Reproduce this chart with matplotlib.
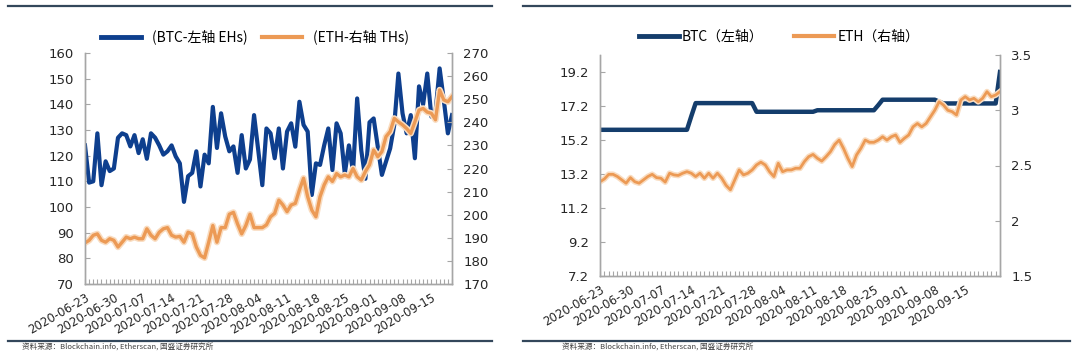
import numpy as np
import pandas as pd
import matplotlib
matplotlib.use("Agg")
import matplotlib.pyplot as plt
import matplotlib.patheffects as pe
from matplotlib.lines import Line2D

plt.rcParams['font.family'] = ['DejaVu Sans', 'Noto Sans CJK SC']

# ---------------- data ----------------
start_date = "2020-06-23"
tick_labels = ["2020-06-23", "2020-06-30", "2020-07-07", "2020-07-14", "2020-07-21",
               "2020-07-28", "2020-08-04", "2020-08-11", "2020-08-18", "2020-08-25",
               "2020-09-01", "2020-09-08", "2020-09-15"]

# Left chart: hashrate
btc_hash = [124, 109.5, 110, 128.7, 108.5, 117.8, 114, 115, 127, 128.7,
            128, 123.6, 128, 121, 126.4, 118.8, 128.7, 127, 124, 120.4,
            121.7, 124, 119.7, 117, 102, 112, 113.3, 121.7, 108, 120.4,
            117, 139, 123, 136.5, 127.5, 121.7, 123.6, 113.3, 128, 115,
            118.5, 135.8, 122.3, 108.5,
            130.6, 128.7, 119, 130.6, 115, 129.4, 132.6, 123.5, 141, 132,
            129.4, 104.7, 117, 116.4, 124, 130.6, 114.4, 132.6, 128.7, 113,
            124, 113.8, 142.3, 122, 111, 133, 134.5, 123.5, 112.5, 117.7,
            122.8, 132, 152, 136.5, 128.7, 135.8, 119, 147, 140, 152,
            135.2, 137, 154, 141.7, 128.7, 135.8]
eth_hash = [187.8, 188.9, 191.1, 191.7, 188.9, 188.1, 189.6, 188.9, 186.0, 188.1,
            190.3, 189.6, 190.3, 189.6, 189.6, 193.9, 191.1, 189.6, 192.4, 193.9,
            194.4, 191.1, 190.3, 190.6, 188.1, 192.4, 191.7, 186.0, 182.4, 181.3,
            188.1, 195.3, 188.1, 194.4, 194.4, 200.2, 201.0, 196.0, 191.7, 195.3,
            200.2, 194.4, 194.4, 194.4,
            195.6, 199.1, 200.6, 206.3, 204.2, 201.3, 204.2, 204.9, 210.7, 215.8,
            207.8, 202.0, 199.1, 207.8, 212.9, 216.4, 214.4, 217.8, 216.4, 217.2,
            216.4, 220.0, 216.4, 215.0, 218.7, 221.6, 228.0, 225.1, 227.3, 233.8,
            236.0, 241.7, 240.2, 238.9, 237.3, 235.2, 240.2, 245.3, 246.0, 244.4,
            243.9, 241.1, 254.0, 249.7, 248.9, 251.1]

# Right chart: difficulty
btc_diff = [15.8, 15.8, 15.8, 15.8, 15.8, 15.8, 15.8, 15.8, 15.8, 15.8,
            15.8, 15.8, 15.8, 15.8, 15.8, 15.8, 15.8, 15.8, 15.8, 15.8,
            15.8, 16.6, 17.37, 17.37, 17.37, 17.37, 17.37, 17.37, 17.37, 17.37,
            17.37, 17.37, 17.37, 17.37, 17.37, 17.37, 16.86, 16.86, 16.86, 16.86,
            16.86, 16.86, 16.86, 16.86, 16.86, 16.86, 16.86, 16.86, 16.86, 16.86,
            16.95, 16.95, 16.95, 16.95, 16.95, 16.95, 16.95, 16.95, 16.95, 16.95,
            16.95, 16.95, 16.95, 16.95, 17.25, 17.57, 17.57, 17.57, 17.57, 17.57,
            17.57, 17.57, 17.57, 17.57, 17.57, 17.57, 17.57, 17.57, 17.45, 17.35,
            17.35, 17.35, 17.35, 17.35, 17.35, 17.35, 17.35, 17.35, 17.35, 17.35,
            17.35, 17.35, 19.2]
eth_diff = [2.353, 2.378, 2.42, 2.42, 2.40, 2.37, 2.34, 2.39, 2.353, 2.34,
            2.37, 2.40, 2.42, 2.39, 2.385, 2.35, 2.43, 2.415, 2.41, 2.43,
            2.444, 2.43, 2.40, 2.43, 2.385, 2.43, 2.385, 2.43, 2.385, 2.32,
            2.28, 2.37, 2.46, 2.415, 2.43, 2.46, 2.505, 2.53, 2.505, 2.444,
            2.40, 2.52, 2.444, 2.46, 2.46, 2.475,
            2.475, 2.535, 2.58, 2.60, 2.565, 2.54, 2.58, 2.625, 2.69, 2.73,
            2.655, 2.565, 2.49, 2.595, 2.655, 2.73, 2.71, 2.71, 2.73, 2.76,
            2.73, 2.76, 2.776, 2.71, 2.746, 2.776, 2.85, 2.88, 2.85, 2.88,
            2.94, 3.0, 3.077, 3.047, 3.0, 2.987, 2.957, 3.093, 3.123, 3.093,
            3.108, 3.077, 3.108, 3.168, 3.123, 3.138, 3.168]

left_legend = ["(BTC-左轴 EHs)", "(ETH-右轴 THs)"]
right_legend = ["BTC（左轴）", "ETH（右轴）"]
source_text = "资料来源：Blockchain.info, Etherscan, 国盛证券研究所"

# ---------------- style ----------------
BLUE_L = "#0e3f8e"
BLUE_R = "#143d6c"
ORANGE = "#ec9a55"
HALO = "#f9dcc0"
SPINE = "#a6a6a6"
TXT = "#262626"
CJK = ['Noto Sans CJK SC', 'DejaVu Sans']

W, H = 1080, 352
fig = plt.figure(figsize=(W / 100, H / 100), dpi=100)


def px_axes(x0, x1, y0, y1):
    return fig.add_axes([x0 / W, 1 - y1 / H, (x1 - x0) / W, (y1 - y0) / H])


t0 = pd.Timestamp(start_date)
tick_pos = [(pd.Timestamp(s) - t0).days for s in tick_labels]


def style_axes(ax, ax2, n):
    for a in (ax, ax2):
        a.spines['top'].set_visible(False)
        for s in ('left', 'right', 'bottom'):
            a.spines[s].set_color(SPINE)
            a.spines[s].set_linewidth(1.0)
        a.tick_params(axis='y', direction='in', length=3.5, width=0.8,
                      color=SPINE, labelsize=9.5, labelcolor=TXT, pad=8)
    ax.set_xlim(0, n - 1)
    ax.set_xticks(tick_pos)
    ax.set_xticklabels(tick_labels, rotation=30, ha='right',
                       rotation_mode='anchor', fontsize=8.5, color=TXT)
    ax.set_xticks(np.arange(n), minor=True)
    ax.tick_params(axis='x', which='both', direction='in', length=3.5,
                   width=0.8, color=SPINE, pad=5)


halo = lambda w: [pe.Stroke(linewidth=w + 2.2, foreground=HALO), pe.Normal()]

# ---------------- left chart ----------------
axL = px_axes(85, 452, 53, 284)
axL2 = axL.twinx()
n1 = len(btc_hash)
x1 = np.arange(n1)
axL.plot(x1, btc_hash, color=BLUE_L, lw=3.0)
axL2.plot(x1, eth_hash, color=ORANGE, lw=2.4, path_effects=halo(2.4))
axL.set_ylim(70, 160)
axL.set_yticks(np.arange(70, 161, 10))
axL2.set_ylim(170, 270)
axL2.set_yticks(np.arange(170, 271, 10))
style_axes(axL, axL2, n1)

hL = [Line2D([], [], color=BLUE_L, lw=3.5),
      Line2D([], [], color=ORANGE, lw=3.0)]
fig.legend(hL, left_legend, loc='center', bbox_to_anchor=(255 / W, 1 - 37 / H),
           ncol=2, frameon=False, handlelength=2.9, handletextpad=0.8,
           columnspacing=1.0, prop={'family': CJK, 'size': 10})

# ---------------- right chart ----------------
axR = px_axes(600, 1000, 55, 276)
axR2 = axR.twinx()
n2 = len(btc_diff)
x2 = np.arange(n2)
axR.plot(x2, btc_diff, color=BLUE_R, lw=3.2)
axR2.plot(x2, eth_diff, color=ORANGE, lw=2.0, path_effects=halo(2.0))
axR.set_ylim(7.2, 20.2)
axR.set_yticks([7.2, 9.2, 11.2, 13.2, 15.2, 17.2, 19.2])
axR.set_yticklabels(["7.2", "9.2", "11.2", "13.2", "15.2", "17.2", "19.2"])
axR2.set_ylim(1.5, 3.5)
axR2.set_yticks([1.5, 2, 2.5, 3, 3.5])
axR2.set_yticklabels(["1.5", "2", "2.5", "3", "3.5"])
style_axes(axR, axR2, n2)

hR = [Line2D([], [], color=BLUE_R, lw=3.5),
      Line2D([], [], color=ORANGE, lw=3.0)]
fig.legend(hR, right_legend, loc='center', bbox_to_anchor=(779 / W, 1 - 37 / H),
           ncol=2, frameon=False, handlelength=2.9, handletextpad=0.2,
           columnspacing=2.2, prop={'family': CJK, 'size': 10})

# ---------------- page decorations ----------------
for (xa, xb) in [(8, 492), (523, 1070)]:
    for yy in (6, 341):
        fig.add_artist(Line2D([xa / W, xb / W], [1 - yy / H, 1 - yy / H],
                              color="#33475b", lw=1.6,
                              transform=fig.transFigure))
for xs in (22, 562):
    fig.text(xs / W, 1 - 351 / H, source_text, fontsize=5.5, color="#404040",
             va='bottom', ha='left', family=CJK)

fig.savefig("out.png", dpi=100)
